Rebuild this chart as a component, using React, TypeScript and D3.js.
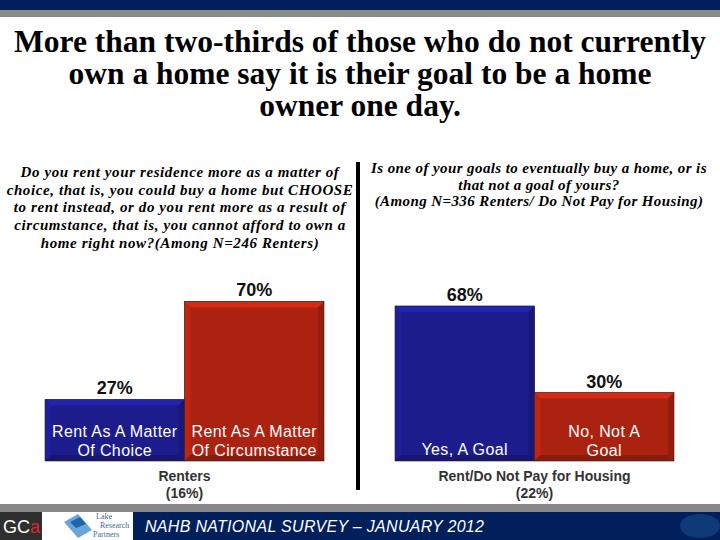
import React from "react";
import * as d3 from "d3";

const titleLines = [
  "More than two-thirds of those who do not currently",
  "own a home say it is their goal to be a home",
  "owner one day.",
];

const leftQuestion = [
  "Do you rent your residence more as a matter of",
  "choice, that is, you could buy a home but CHOOSE",
  "to rent instead, or do you rent more as a result of",
  "circumstance, that is, you cannot afford to own a",
  "home right now?(Among N=246 Renters)",
];

const rightQuestion = [
  "Is one of your goals to eventually buy a home, or is",
  "that not a goal of yours?",
  "(Among N=336 Renters/ Do Not Pay for Housing)",
];

const leftCategories = ["Rent As A Matter|Of Choice", "Rent As A Matter|Of Circumstance"];
const leftValues = [27, 70];
const leftAxisLabel = ["Renters", "(16%)"];

const rightCategories = ["Yes, A Goal", "No, Not A|Goal"];
const rightValues = [68, 30];
const rightAxisLabel = ["Rent/Do Not Pay for Housing", "(22%)"];

const barColors = ["#1c1c8c", "#ac2210"];
const footerText = "NAHB NATIONAL SURVEY \u2013 JANUARY 2012";

const W = 720;
const H = 540;
const baseY = 461;
const y = d3.scaleLinear().domain([0, 100]).range([baseY, baseY - 228]);
const sans = "'Liberation Sans', Arial, sans-serif";
const serif = "'Liberation Serif', 'Times New Roman', serif";

function shade(c: string, k: number) {
  const col = d3.color(c)!;
  return k > 0 ? col.brighter(k).formatHex() : col.darker(-k).formatHex();
}

function Bar({ x, w, top, bottom, color }: { x: number; w: number; top: number; bottom: number; color: string }) {
  const b = 6;
  const x2 = x + w;
  return (
    <g>
      <rect x={x} y={top} width={w} height={bottom - top} fill={color} />
      <polygon points={`${x},${top} ${x2},${top} ${x2 - b},${top + b} ${x + b},${top + b}`} fill={shade(color, 0.6)} />
      <polygon points={`${x},${top} ${x + b},${top + b} ${x + b},${bottom - b} ${x},${bottom}`} fill={shade(color, 0.3)} />
      <polygon points={`${x2},${top} ${x2},${bottom} ${x2 - b},${bottom - b} ${x2 - b},${top + b}`} fill={shade(color, -0.4)} />
      <polygon points={`${x},${bottom} ${x + b},${bottom - b} ${x2 - b},${bottom - b} ${x2},${bottom}`} fill={shade(color, -0.6)} />
      <rect x={x} y={top} width={w} height={bottom - top} fill="none" stroke="#222" strokeWidth={0.6} />
    </g>
  );
}

function Panel({
  categories,
  values,
  range,
  axisLabel,
}: {
  categories: string[];
  values: number[];
  range: [number, number];
  axisLabel: string[];
}) {
  const x = d3.scaleBand<string>().domain(categories).range(range).padding(0);
  const cx = (range[0] + range[1]) / 2;
  return (
    <g>
      {categories.map((c, i) => {
        const x0 = x(c)!;
        const bw = x.bandwidth();
        const top = y(values[i]);
        const lines = c.split("|");
        return (
          <g key={c}>
            <Bar x={x0} w={bw} top={top} bottom={y(0)} color={barColors[i]} />
            <text
              x={x0 + bw / 2}
              y={top - 5}
              textAnchor="middle"
              fontFamily={sans}
              fontWeight="bold"
              fontSize={18}
              fill="#111"
            >
              {values[i]}%
            </text>
            {lines.map((l, j) => (
              <text
                key={j}
                x={x0 + bw / 2}
                y={lines.length === 1 ? 455 : 437 + j * 19}
                textAnchor="middle"
                fontFamily={sans}
                fontSize={16}
                letterSpacing={0.4}
                fill="#fff"
              >
                {l}
              </text>
            ))}
          </g>
        );
      })}
      {axisLabel.map((l, j) => (
        <text
          key={j}
          x={cx}
          y={481 + j * 17}
          textAnchor="middle"
          fontFamily={sans}
          fontWeight="bold"
          fontSize={14}
          fill="#333"
        >
          {l}
        </text>
      ))}
    </g>
  );
}

export default function App() {
  return (
    <svg width={W} height={H} style={{ position: "absolute", left: 0, top: 0, background: "#fff" }}>
      <rect x={0} y={0} width={W} height={H} fill="#fff" />
      <rect x={0} y={0} width={W} height={10} fill="#001f5b" />
      <rect x={0} y={10} width={W} height={7} fill="#8a8a8a" />

      {titleLines.map((t, i) => (
        <text
          key={i}
          x={360}
          y={52 + i * 32}
          textAnchor="middle"
          fontFamily={serif}
          fontWeight="bold"
          fontSize={31.5}
          fill="#000"
        >
          {t}
        </text>
      ))}

      {leftQuestion.map((t, i) => (
        <text
          key={i}
          x={180}
          y={177 + i * 17.7}
          textAnchor="middle"
          fontFamily={serif}
          fontWeight="bold"
          fontStyle="italic"
          fontSize={15}
          letterSpacing={0.6}
          fill="#000"
        >
          {t}
        </text>
      ))}
      {rightQuestion.map((t, i) => (
        <text
          key={i}
          x={539}
          y={173 + i * 16.5}
          textAnchor="middle"
          fontFamily={serif}
          fontWeight="bold"
          fontStyle="italic"
          fontSize={15}
          letterSpacing={0.4}
          fill="#000"
        >
          {t}
        </text>
      ))}

      <rect x={356} y={162} width={4} height={328} fill="#000" />

      <Panel categories={leftCategories} values={leftValues} range={[45, 324]} axisLabel={leftAxisLabel} />
      <Panel categories={rightCategories} values={rightValues} range={[395, 674]} axisLabel={rightAxisLabel} />

      <rect x={0} y={504} width={W} height={8} fill="#888" />
      <rect x={0} y={512} width={W} height={28} fill="#001f5b" />
      <ellipse cx={700} cy={526} rx={20} ry={12} fill="#0f3a78" />
      <rect x={0} y={512} width={42} height={28} fill="#2f2f2f" />
      <text x={3} y={533} fontFamily={sans} fontSize={18} fill="#fff">
        GC
      </text>
      <text x={30} y={533} fontFamily={sans} fontSize={18} fill="#d8262e">
        a
      </text>
      <rect x={42} y={512} width={91} height={28} fill="#fff" />
      <polygon points="64,522 78,514 92,530 78,538" fill="#6aa6d8" />
      <polygon points="70,522 80,517 86,524 76,528" fill="#1f67a8" />
      <text x={96} y={519} fontFamily={serif} fontSize={8} fill="#3a6aa0">Lake</text>
      <text x={100} y={528} fontFamily={serif} fontSize={8} fill="#3a6aa0">Research</text>
      <text x={93} y={537} fontFamily={serif} fontSize={8} fill="#3a6aa0">Partners</text>
      <text x={145} y={532} fontFamily={sans} fontStyle="italic" fontSize={16} letterSpacing={0.3} fill="#fff">
        {footerText}
      </text>
    </svg>
  );
}
